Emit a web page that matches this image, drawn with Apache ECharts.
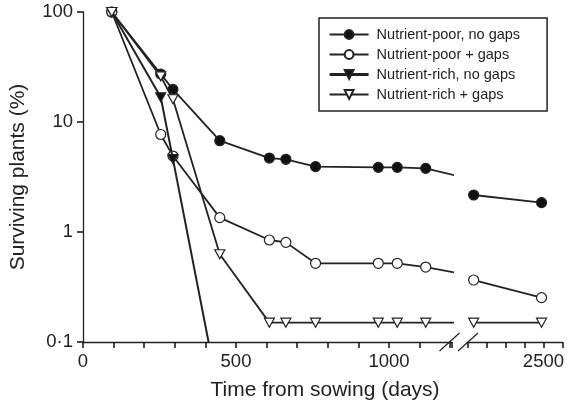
<!DOCTYPE html>
<html><head><meta charset="utf-8">
<script src="https://cdn.jsdelivr.net/npm/echarts@6/dist/echarts.min.js"></script>
<style>html,body{margin:0;padding:0;background:#fff}#c{width:567px;height:407px}</style>
</head><body><div id="c"></div>
<script>
// ---- data ----
const censusDays   = [94, 254, 294, 447, 609, 663, 760, 965, 1027, 1120, 1300, 2130, 2490];
const poorNoGaps   = [100, 27.3, 19.8, 6.76, 4.7, 4.58, 3.93, 3.87, 3.87, 3.79, 2.88, 2.17, 1.85];
const poorGaps     = [100, 7.7, 4.9, 1.35, 0.846, 0.805, 0.519, 0.519, 0.519, 0.48, 0.387, 0.366, 0.253];
const richNoGaps   = [100, 16.8, 4.6, 0.03, null, null, null, null, null, null, null, null, null];
const richGaps     = [100, 26, 16.1, 0.627, 0.15, 0.15, 0.15, 0.15, 0.15, 0.15, 0.15, 0.15, 0.15];
const seriesNames  = ['Nutrient-poor, no gaps', 'Nutrient-poor + gaps', 'Nutrient-rich, no gaps', 'Nutrient-rich + gaps'];
const seriesValues = [poorNoGaps, poorGaps, richNoGaps, richGaps];
const xTickStep    = 100;
const xLabelsLeft  = [0, 500, 1000];
const xLabelsRight = [2500];
const yTickLabels  = ['0·1', '1', '10', '100'];
const xTitle = 'Time from sowing (days)';
const yTitle = 'Surviving plants (%)';

// ---- layout / style ----
const FONT = 'Liberation Sans, Arial, Helvetica, sans-serif';
const INK = '#222';
const leftMin = 0, leftMax = 1205, rightMin = 2100, rightMax = 2600;
const pxLeft = 0.306, pxRight = 0.2;
const gTop = 12, gH = 330;
const gLeftX = 83, gRightX = 468;

const styles = [
  {symbol: 'circle', size: 10, fill: '#111', rotate: 0, lw: 1.8},
  {symbol: 'circle', size: 10, fill: '#fff', rotate: 0, lw: 1.8},
  {symbol: 'triangle', size: [10, 9], fill: '#111', rotate: 180, lw: 2},
  {symbol: 'triangle', size: [10, 9], fill: '#fff', rotate: 180, lw: 1.8}
];

const chart = echarts.init(document.getElementById('c'), null, {renderer: 'canvas'});

function yLabel(v) {
  const i = Math.round(Math.log10(v)) + 1;
  return yTickLabels[i] !== undefined ? yTickLabels[i] : '';
}
function xLabelFrom(list) {
  return v => (list.indexOf(Math.round(v)) >= 0 ? String(Math.round(v)) : '');
}

function axisLine() { return {show: true, lineStyle: {color: INK, width: 1.3}}; }
function tick() { return {show: true, length: 6, lineStyle: {color: '#111', width: 1.5}}; }
function xLabel(list) {
  return {color: INK, fontSize: 18.5, fontFamily: FONT, margin: 10, formatter: xLabelFrom(list)};
}

const series = [];
[0, 1].forEach(g => {
  seriesValues.forEach((vals, i) => {
    const st = styles[i];
    const data = censusDays.map((d, k) => [d, vals[k]])
      .filter(p => p[1] !== null && (g === 0 || p[0] > rightMin));
    series.push({
      type: 'line', name: seriesNames[i], xAxisIndex: g, yAxisIndex: g,
      data: data, clip: true, connectNulls: false,
      symbol: st.symbol, symbolSize: st.size, symbolRotate: st.rotate,
      showAllSymbol: true,
      lineStyle: {color: INK, width: st.lw},
      itemStyle: {color: st.fill, borderColor: INK, borderWidth: 1.2},
      emphasis: {disabled: true},
      animation: false, z: 2 + i
    });
  });
});

const option = {
  backgroundColor: '#fff',
  animation: false,
  textStyle: {fontFamily: FONT},
  grid: [
    {left: gLeftX, top: gTop, width: (leftMax - leftMin) * pxLeft, height: gH},
    {left: gRightX, top: gTop, width: (rightMax - rightMin) * pxRight, height: gH}
  ],
  xAxis: [
    {type: 'value', gridIndex: 0, min: leftMin, max: leftMax, interval: xTickStep,
     axisLine: axisLine(), axisTick: tick(), splitLine: {show: false}, axisLabel: xLabel(xLabelsLeft)},
    {type: 'value', gridIndex: 1, min: rightMin, max: rightMax, interval: xTickStep,
     axisLine: axisLine(), axisTick: tick(), splitLine: {show: false}, axisLabel: xLabel(xLabelsRight)}
  ],
  yAxis: [
    {type: 'log', logBase: 10, gridIndex: 0, min: 0.1, max: 100,
     axisLine: axisLine(), axisTick: tick(), splitLine: {show: false},
     axisLabel: {formatter: yLabel, color: INK, fontSize: 18.5, fontFamily: FONT, margin: 10}},
    {type: 'log', logBase: 10, gridIndex: 1, min: 0.1, max: 100, show: false}
  ],
  legend: {
    show: true, orient: 'vertical', left: 319, top: 18,
    data: seriesNames.map((n, i) => i === 2 ? {name: n, lineStyle: {width: 3.2}} : {name: n}),
    itemWidth: 39, itemHeight: 11, itemGap: 3,
    padding: [8, 27, 8, 9],
    borderColor: INK, borderWidth: 1.5, backgroundColor: '#fff',
    textStyle: {color: INK, fontSize: 14.5, fontFamily: FONT, lineHeight: 17, padding: [0, 0, 0, 3]},
    selectedMode: false
  },
  series: series,
  graphic: [
    {type: 'text', x: 325, y: 390, style: {text: xTitle, font: '21px ' + FONT, fill: INK, textAlign: 'center', textVerticalAlign: 'middle'}},
    {type: 'text', rotation: Math.PI / 2, x: 18, y: 177, style: {text: yTitle, font: '21px ' + FONT, fill: INK, textAlign: 'center', textVerticalAlign: 'middle'}},
    {type: 'line', shape: {x1: 439.5, y1: 351, x2: 459.5, y2: 333}, style: {stroke: INK, lineWidth: 1.2}},
    {type: 'line', shape: {x1: 458, y1: 351, x2: 478, y2: 333}, style: {stroke: INK, lineWidth: 1.2}}
  ]
};
chart.setOption(option);
</script>
</body></html>
